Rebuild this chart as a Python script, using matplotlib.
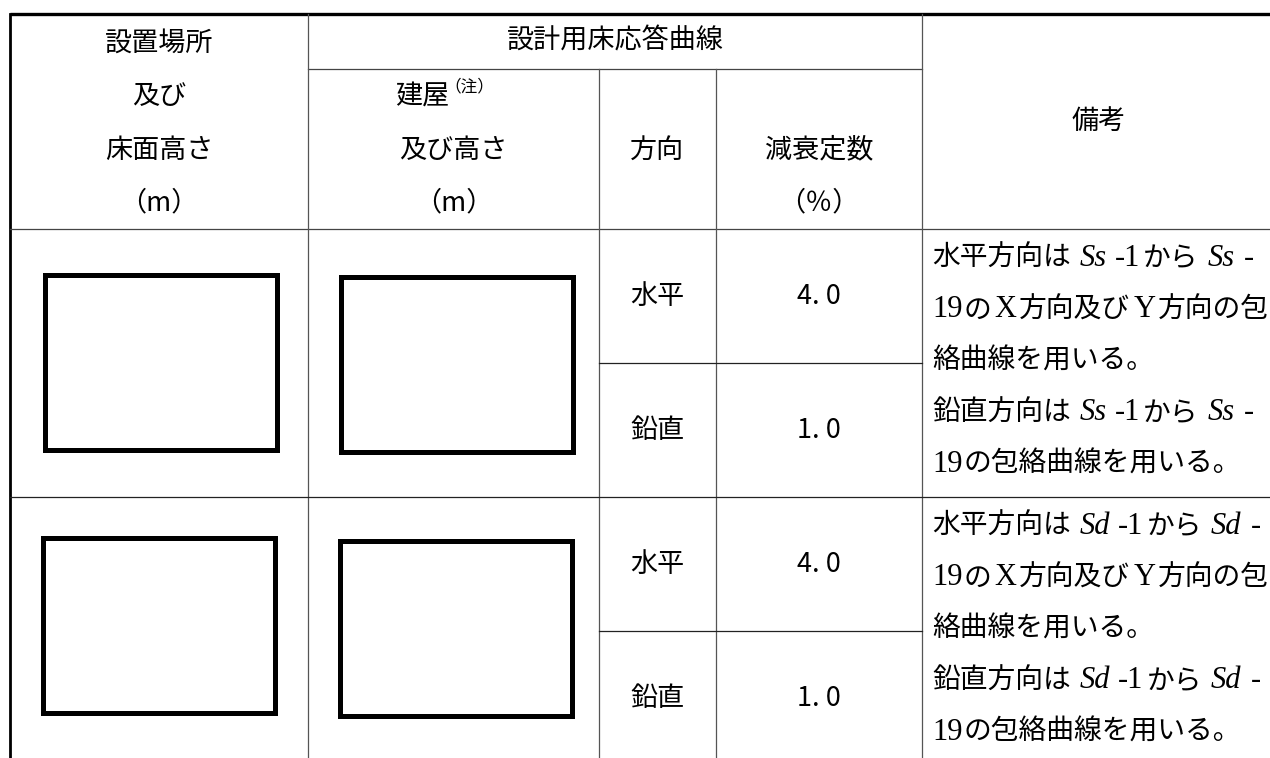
import matplotlib
matplotlib.use("Agg")
import matplotlib.pyplot as plt
from matplotlib.patches import Rectangle

# table contents
group_header = "設計用床応答曲線"
place_header = ["設置場所", "及び", "床面高さ", "（m）"]
building_header = ["建屋", "及び高さ", "（m）"]
note_mark = "（注）"
direction_header = "方向"
damping_header = ["減衰定数", "（％）"]
remarks_header = "備考"

waves = ["Ss", "Sd"]
directions = ["水平", "鉛直"]
damping = [4.0, 1.0]
last_wave_no = "19"

# layout (pixel coordinates of the 1270x758 picture)
W, H = 1270, 758
xcols = [10, 308, 599, 716, 922, 1276]
y_top, y_sub, y_head = 14, 69, 229
row_h = 268
line_pitch = 51.5

CJK = ["Noto Sans CJK JP", "DejaVu Sans"]
JP = dict(family=CJK, fontsize=19.5)
STYLES = {
    "jp": dict(family=CJK, fontsize=20),
    "rm": dict(family="Liberation Serif", fontsize=22),
    "it": dict(family="Liberation Serif", fontsize=22, style="italic"),
}

fig = plt.figure(figsize=(W / 100, H / 100), dpi=100)
ax = fig.add_axes([0, 0, 1, 1])
ax.set_xlim(0, W)
ax.set_ylim(H, 0)
ax.axis("off")
renderer = fig.canvas.get_renderer()


def draw_runs(x, y, runs):
    # put text pieces of different fonts one after another on a line
    for text, kind, gap in runs:
        x += gap
        t = ax.text(x, y, text, ha="left", va="center", color="black", **STYLES[kind])
        x += t.get_window_extent(renderer).width


def remark_lines(wave):
    tail = [("から", "jp", 3), (wave, "it", 9), ("-", "rm", 9)]
    return [
        [("水平方向は", "jp", 0), (wave, "it", 9), ("-1", "rm", 8)] + tail,
        [(last_wave_no, "rm", 0), ("の", "jp", 1), ("X", "rm", 3), ("方向及び", "jp", 3),
         ("Y", "rm", 3), ("方向の包", "jp", 3)],
        [("絡曲線を用いる。", "jp", 0)],
        [("鉛直方向は", "jp", 0), (wave, "it", 9), ("-1", "rm", 8)] + tail,
        [(last_wave_no, "rm", 0), ("の包絡曲線を用いる。", "jp", 1)],
    ]


# grid lines
thin = dict(color="#444444", lw=0.9)
ax.plot([xcols[0], W], [y_top, y_top], color="black", lw=2.4, solid_capstyle="butt")
ax.plot([xcols[0], xcols[0]], [y_top, H], color="black", lw=2.0)
ax.plot([xcols[1], xcols[4]], [y_sub, y_sub], **thin)
ax.plot([xcols[0], W], [y_head, y_head], **thin)
for x in (xcols[1], xcols[4]):
    ax.plot([x, x], [y_top, H], color="#555555", lw=0.9)
for x in (xcols[2], xcols[3]):
    ax.plot([x, x], [y_sub, H], color="#555555", lw=0.9)

# header
ax.text((xcols[1] + xcols[4]) / 2, 41, group_header, ha="center", va="center", **JP)
for s, y in zip(place_header, [43, 97, 150, 203]):
    ax.text((xcols[0] + xcols[1]) / 2, y, s, ha="center", va="center", **JP)
ax.text(395, 97, building_header[0], ha="left", va="center", **JP)
ax.text(444, 87, note_mark, ha="left", va="center", family=CJK, fontsize=12)
for s, y in zip(building_header[1:], [150, 203]):
    ax.text((xcols[1] + xcols[2]) / 2, y, s, ha="center", va="center", **JP)
ax.text((xcols[2] + xcols[3]) / 2, 150, direction_header, ha="center", va="center", **JP)
for s, y in zip(damping_header, [150, 203]):
    ax.text((xcols[3] + xcols[4]) / 2, y, s, ha="center", va="center", **JP)
ax.text((xcols[4] + xcols[5]) / 2, 121, remarks_header, ha="center", va="center", **JP)

# body rows
boxes = [[(45, 275, 232, 175), (341, 277, 232, 175)],
         [(43, 538, 232, 175), (340, 541, 232, 175)]]
for i, wave in enumerate(waves):
    top = y_head + i * row_h
    mid = top + 134
    bottom = top + row_h
    if i < len(waves) - 1:
        ax.plot([xcols[0], W], [bottom, bottom], color="#222222", lw=0.9)
    ax.plot([xcols[2], xcols[4]], [mid, mid], color="#222222", lw=0.9)

    for (bx, by, bw, bh) in boxes[i]:
        ax.add_patch(Rectangle((bx, by), bw, bh, fill=False, edgecolor="black", lw=3.6))

    for j, (d, v) in enumerate(zip(directions, damping)):
        yc = (top + mid) / 2 if j == 0 else (mid + bottom) / 2
        ax.text((xcols[2] + xcols[3]) / 2, yc, d, ha="center", va="center", **JP)
        ax.text((xcols[3] + xcols[4]) / 2, yc, f"{v:.1f}".replace(".", ". "),
                ha="center", va="center", **JP)

    for k, runs in enumerate(remark_lines(wave)):
        draw_runs(932, top + 29 + k * line_pitch, runs)

fig.savefig("out.png", dpi=100)
